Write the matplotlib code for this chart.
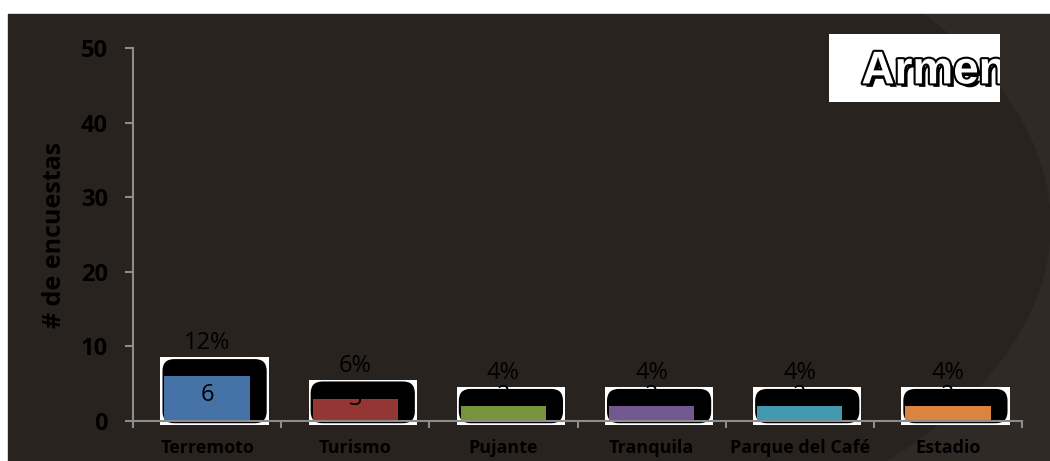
import matplotlib.pyplot as plt
import matplotlib.patheffects as pe
from matplotlib.patches import Rectangle, Ellipse, FancyBboxPatch

plt.rcParams['font.family'] = ['Open Sans', 'DejaVu Sans']

categories = ['Terremoto', 'Turismo', 'Pujante', 'Tranquila', 'Parque del Café', 'Estadio']
counts = [6, 3, 2, 2, 2, 2]
percents = ['12%', '6%', '4%', '4%', '4%', '4%']
colors = ['#4572a7', '#943634', '#77933c', '#71588f', '#4198af', '#db843d']
title = 'Armenia'

W, H = 1050, 461
fig = plt.figure(figsize=(W / 100, H / 100), dpi=100, facecolor='white')

# slide background
bg = fig.add_axes([0, 0, 1, 1])
bg.set_xlim(0, W)
bg.set_ylim(H, 0)
bg.axis('off')
frame = Rectangle((8, 14), W - 8, H - 14, color='#302a27')
bg.add_patch(frame)
ell = Ellipse((380, 225), 1340, 720, color='#29231f')
bg.add_patch(ell)
ell.set_clip_path(frame)

ax = fig.add_axes([133 / W, 40 / H, 889 / W, 373 / H])
ax.patch.set_alpha(0)
x = list(range(len(categories)))
bw = 0.575
px_x = 1 / 148.0   # x data units per pixel
px_y = 1 / 7.46    # y data units per pixel

for i, (v, c) in enumerate(zip(counts, colors)):
    left = i - bw / 2
    ax.add_patch(Rectangle((left - 4 * px_x, -0.55), bw + 23 * px_x, v + 3.1,
                           facecolor='white', edgecolor='none', clip_on=False, zorder=1))
    ax.add_patch(FancyBboxPatch((left - 2 * px_x, -0.3), bw + 19 * px_x, v + 2.6,
                                boxstyle='round,pad=0,rounding_size=0.08',
                                mutation_aspect=px_y / px_x,
                                facecolor='black', edgecolor='none', clip_on=False, zorder=1.2))

ax.bar(x, counts, width=bw, color=colors, zorder=1.5)

label_y = [3.5, 2.9, 3.4, 3.4, 3.4, 3.4]
for i, (v, p, ly) in enumerate(zip(counts, percents, label_y)):
    ax.text(i, ly, str(v), ha='center', va='center', fontsize=17, color='black',
            zorder=1.3 if v < 3 else 1.6)
    ax.text(i, v + 4.4, p, ha='center', va='center', fontsize=17, color='black', zorder=1.6)

ax.set_xlim(-0.5, len(categories) - 0.5)
ax.set_ylim(0, 50)
ax.set_yticks([0, 10, 20, 30, 40, 50])
ax.set_xticks(x)
ax.set_xticklabels(categories, fontsize=13, fontweight='bold', color='black')
ax.set_xticks([i - 0.5 for i in range(len(categories) + 1)], minor=True)
ax.tick_params(axis='x', which='major', length=0, pad=13)
ax.tick_params(axis='x', which='minor', length=5, color='#8c8c8c', width=1.5)
ax.tick_params(axis='y', length=6, color='#8c8c8c', width=1.5, pad=12,
               labelsize=17, labelcolor='black')
for t in ax.get_yticklabels():
    t.set_fontweight('bold')
ax.set_ylabel('# de encuestas', fontsize=18, fontweight='bold', color='black', labelpad=10)
for s in ['top', 'right']:
    ax.spines[s].set_visible(False)
for s in ['left', 'bottom']:
    ax.spines[s].set_color('#8c8c8c')
    ax.spines[s].set_linewidth(1.5)
    ax.spines[s].set_zorder(3)

# title box
tax = fig.add_axes([829 / W, (H - 102) / H, 171 / W, 68 / H])
tax.set_facecolor('white')
tax.set_xticks([])
tax.set_yticks([])
for s in tax.spines.values():
    s.set_visible(False)
tax.text(0.19, 0.45, title, transform=tax.transAxes, ha='left', va='center',
         fontsize=33, fontweight='bold', color='white',
         family=['Liberation Sans Narrow', 'Liberation Sans'],
         clip_on=True,
         path_effects=[pe.SimplePatchShadow(offset=(2.5, -2.5), shadow_rgbFace='black', alpha=1),
                       pe.Stroke(linewidth=3, foreground='black'), pe.Normal()])

fig.savefig('out.png', dpi=100)
